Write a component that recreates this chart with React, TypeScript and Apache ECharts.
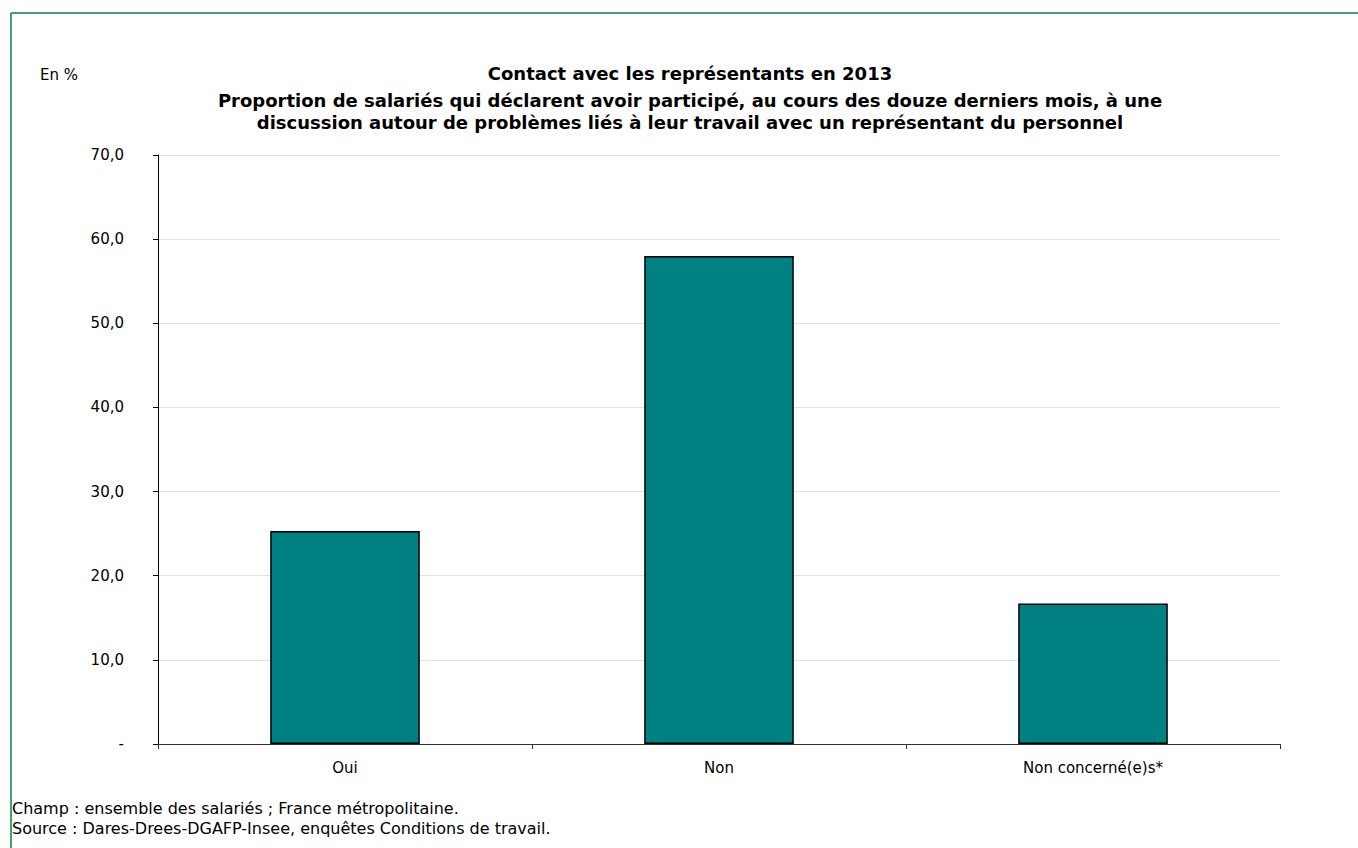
import React, { useEffect, useRef } from "react";
import * as echarts from "echarts";

const categories = ["Oui", "Non", "Non concerné(e)s*"];
const values = [25.3, 58.0, 16.7];
const titleLines = [
  "Contact avec les représentants en 2013",
  "Proportion de salariés qui déclarent avoir participé, au cours des douze derniers mois, à une",
  "discussion autour de problèmes liés à leur travail avec un représentant du personnel",
];
const unitLabel = "En %";
const notes = [
  "Champ : ensemble des salariés ; France métropolitaine.",
  "Source : Dares-Drees-DGAFP-Insee, enquêtes Conditions de travail.",
];

const FONT = "'DejaVu Sans', Verdana, sans-serif";

export default function App() {
  const ref = useRef<HTMLDivElement>(null);
  useEffect(() => {
    document.body.style.margin = "0";
    const chart = echarts.init(ref.current!, undefined, { renderer: "svg" });
    chart.setOption({
      animation: false,
      backgroundColor: "#ffffff",
      textStyle: { fontFamily: FONT },
      title: [
        {
          text: titleLines[0],
          left: 690,
          top: 63,
          padding: 0,
          textAlign: "center",
          textStyle: { fontFamily: FONT, fontSize: 18, fontWeight: "bold", color: "#000", lineHeight: 20 },
        },
        {
          text: titleLines[1] + "\n" + titleLines[2],
          left: 690,
          top: 89,
          padding: 0,
          textAlign: "center",
          textStyle: { fontFamily: FONT, fontSize: 18, fontWeight: "bold", color: "#000", lineHeight: 22 },
        },
      ],
      graphic: [
        { type: "line", shape: { x1: 11, y1: 13, x2: 1358, y2: 13 }, style: { stroke: "#4a9e6e", lineWidth: 2 } },
        { type: "line", shape: { x1: 11, y1: 13, x2: 11, y2: 848 }, style: { stroke: "#4a9e6e", lineWidth: 2 } },
        { type: "text", left: 40, top: 67, style: { text: unitLabel, font: `15px ${FONT}`, fill: "#000" } },
        { type: "text", left: 12, top: 800, style: { text: notes[0], font: `16px ${FONT}`, fill: "#000" } },
        { type: "text", left: 12, top: 820, style: { text: notes[1], font: `16px ${FONT}`, fill: "#000" } },
      ],
      grid: { left: 158, right: 78, top: 155, bottom: 104, containLabel: false },
      xAxis: {
        type: "category",
        data: categories,
        axisLine: { lineStyle: { color: "#333", width: 1 } },
        axisTick: { show: true, length: 5, alignWithLabel: false, lineStyle: { color: "#333" } },
        axisLabel: { fontFamily: FONT, fontSize: 15, color: "#000", margin: 16 },
      },
      yAxis: {
        type: "value",
        min: 0,
        max: 70,
        interval: 10,
        axisLine: { show: true, lineStyle: { color: "#000", width: 1 } },
        axisTick: { show: true, length: 5, lineStyle: { color: "#000" } },
        splitLine: { show: true, lineStyle: { color: "#e3e3e3", width: 1 } },
        axisLabel: {
          fontFamily: FONT,
          fontSize: 15,
          color: "#000",
          margin: 34,
          formatter: (v: number) => (v === 0 ? "-" : v.toFixed(1).replace(".", ",")),
        },
      },
      series: [
        {
          type: "bar",
          data: values,
          barWidth: "40%",
          itemStyle: { color: "#008080", borderColor: "#000", borderWidth: 1.5 },
        },
      ],
    });
    return () => chart.dispose();
  }, []);
  return <div ref={ref} style={{ position: "absolute", left: 0, top: 0, width: 1358, height: 848 }} />;
}
